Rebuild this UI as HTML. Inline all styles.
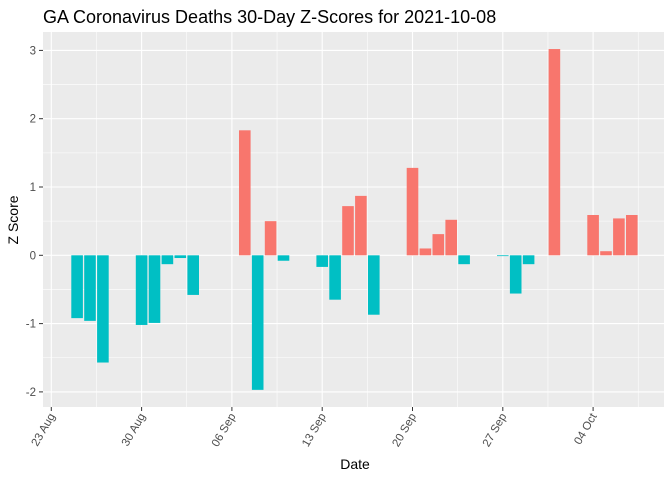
<!DOCTYPE html>
<html><head><meta charset="utf-8"><style>
body{margin:0;background:#fff;font-family:"Liberation Sans",sans-serif}
</style></head><body>
<svg width="672" height="480" xmlns="http://www.w3.org/2000/svg">
<text x="43" y="23" font-size="18" fill="#000">GA Coronavirus Deaths 30-Day Z-Scores for 2021-10-08</text>
<rect x="43" y="32" width="621" height="375" fill="#EBEBEB"/>
<g id="grid"></g><g id="bars"></g><g id="axes"></g>
<text x="355" y="469" font-size="14" text-anchor="middle">Date</text>
<text transform="translate(18,220) rotate(-90)" font-size="14" text-anchor="middle">Z Score</text>
</svg>
<script>
const days = [2,3,4,7,8,9,10,11,15,16,17,18,21,22,23,24,25,28,29,30,31,32,35,36,37,39,42,43,44,45];
const zscores = [-0.92,-0.96,-1.57,-1.02,-0.99,-0.13,-0.04,-0.58,1.83,-1.97,0.50,-0.08,-0.17,-0.65,0.72,0.87,-0.87,1.28,0.10,0.31,0.52,-0.13,-0.01,-0.56,-0.13,3.02,0.59,0.06,0.54,0.59];
const yTicks = [-2,-1,0,1,2,3];
const xTickDays = [0,7,14,21,28,35,42];
const xTickLabels = ["23 Aug","30 Aug","06 Sep","13 Sep","20 Sep","27 Sep","04 Oct"];
const NS="http://www.w3.org/2000/svg";
const xs = d => 51.3 + d*12.9;
const ys = v => 255.3 - v*68.3;
function mk(t,a,p){const e=document.createElementNS(NS,t);for(const k in a)e.setAttribute(k,a[k]);p.appendChild(e);return e;}
const grid=document.getElementById('grid'),bars=document.getElementById('bars'),axes=document.getElementById('axes');
for(let v=-2.5;v<=3.01;v+=0.5){const y=ys(v);if(y<32||y>407)continue;
 const major=Math.abs(v-Math.round(v))<1e-6;
 const l=mk('line',{x1:43,x2:664,y1:y,y2:y,stroke:'#fff','stroke-width':major?1.1:0.55},grid);
 
 }
for(let d=-3.5;d<=48;d+=3.5){const x=xs(d);if(x<43||x>664)continue;
 const major=Math.abs(d/7-Math.round(d/7))<1e-6;
 const l=mk('line',{x1:x,x2:x,y1:32,y2:407,stroke:'#fff','stroke-width':major?1.1:0.55},grid);
 
 }
days.forEach((d,i)=>{const v=zscores[i];const y0=ys(0),y1=ys(v);
 const r=mk('rect',{x:xs(d)-5.8,width:11.6,y:Math.min(y0,y1),height:Math.max(0.8,Math.abs(y1-y0)),fill:v>=0?'#F8766D':'#00BFC4'},bars);
 
 });
yTicks.forEach(v=>{const y=ys(v);
 mk('line',{x1:39,x2:43,y1:y,y2:y,stroke:'#333'},axes);
 const t=mk('text',{x:36,y:y+4,'font-size':11.5,fill:'#4D4D4D','text-anchor':'end'},axes);t.textContent=v;
 
 });
xTickDays.forEach((d,i)=>{const x=xs(d);
 mk('line',{x1:x,x2:x,y1:407,y2:411,stroke:'#333'},axes);
 const t=mk('text',{transform:`translate(${x+4},${416}) rotate(-60)`,'font-size':11.5,fill:'#4D4D4D','text-anchor':'end'},axes);t.textContent=xTickLabels[i];
 
 });
</script>
</body></html>
